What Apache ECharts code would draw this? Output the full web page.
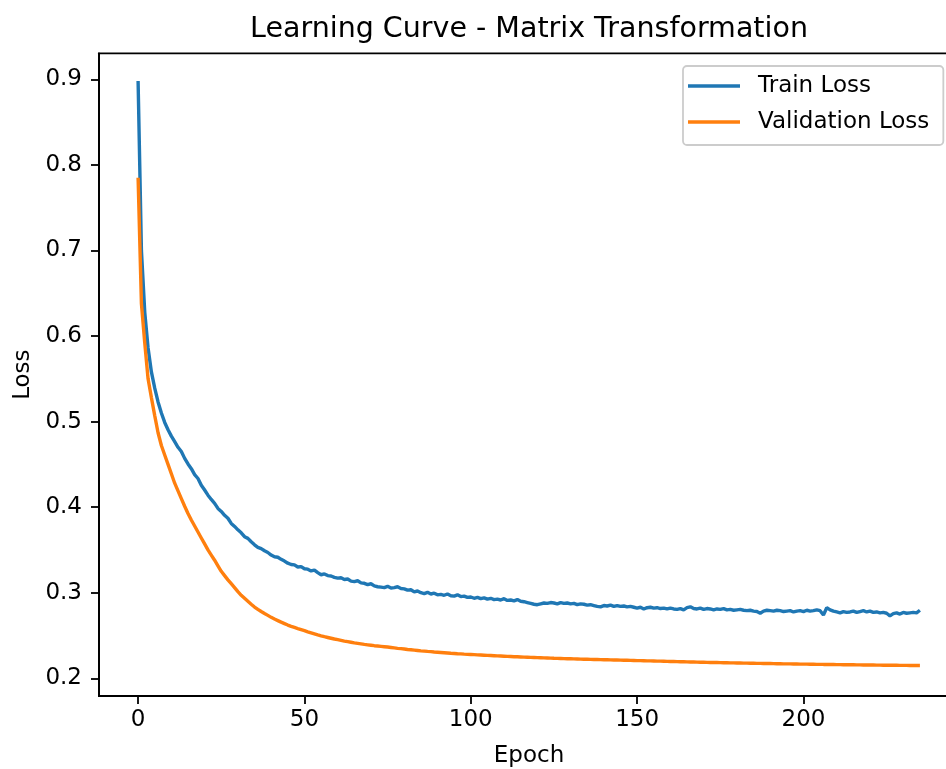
<!DOCTYPE html>
<html>
<head>
<meta charset="utf-8">
<script src="https://cdn.jsdelivr.net/npm/echarts@6/dist/echarts.min.js"></script>
<style>
  html, body { margin: 0; padding: 0; background: #fff; overflow: hidden; }
  #chart { width: 946px; height: 769px; }
</style>
</head>
<body>
<div id="chart"></div>
<script>
// Per-epoch losses recorded during training
const trainLoss = [
  0.8980, 0.7000, 0.6280, 0.5860, 0.5580, 0.5390, 0.5230, 0.5100, 0.4990, 0.4905,
  0.4830, 0.4765, 0.4700, 0.4650, 0.4570, 0.4505, 0.4450, 0.4380, 0.4335, 0.4255,
  0.4200, 0.4140, 0.4090, 0.4045, 0.3985, 0.3950, 0.3905, 0.3870, 0.3810, 0.3775,
  0.3735, 0.3700, 0.3655, 0.3635, 0.3595, 0.3560, 0.3530, 0.3515, 0.3490, 0.3470,
  0.3440, 0.3420, 0.3415, 0.3390, 0.3370, 0.3345, 0.3330, 0.3325, 0.3300, 0.3305,
  0.3280, 0.3275, 0.3255, 0.3265, 0.3235, 0.3210, 0.3220, 0.3200, 0.3195, 0.3180,
  0.3170, 0.3175, 0.3155, 0.3160, 0.3135, 0.3130, 0.3140, 0.3115, 0.3110, 0.3095,
  0.3105, 0.3080, 0.3070, 0.3065, 0.3060, 0.3075, 0.3055, 0.3060, 0.3070, 0.3050,
  0.3045, 0.3030, 0.3035, 0.3010, 0.3020, 0.3000, 0.2990, 0.3005, 0.2985, 0.2995,
  0.2975, 0.2980, 0.2970, 0.2985, 0.2965, 0.2960, 0.2975, 0.2955, 0.2960, 0.2945,
  0.2950, 0.2935, 0.2945, 0.2930, 0.2940, 0.2925, 0.2935, 0.2920, 0.2925, 0.2915,
  0.2930, 0.2910, 0.2915, 0.2905, 0.2920, 0.2900, 0.2895, 0.2885, 0.2875, 0.2865,
  0.2860, 0.2870, 0.2880, 0.2875, 0.2885, 0.2880, 0.2870, 0.2885, 0.2875, 0.2880,
  0.2870, 0.2875, 0.2860, 0.2870, 0.2865, 0.2855, 0.2860, 0.2850, 0.2840, 0.2835,
  0.2850, 0.2845, 0.2855, 0.2840, 0.2850, 0.2840, 0.2845, 0.2835, 0.2840, 0.2830,
  0.2820, 0.2830, 0.2810, 0.2825, 0.2830, 0.2820, 0.2825, 0.2815, 0.2820, 0.2810,
  0.2820, 0.2810, 0.2805, 0.2815, 0.2800, 0.2825, 0.2835, 0.2815, 0.2810, 0.2820,
  0.2805, 0.2815, 0.2810, 0.2800, 0.2810, 0.2805, 0.2815, 0.2800, 0.2805, 0.2795,
  0.2800, 0.2805, 0.2795, 0.2790, 0.2795, 0.2785, 0.2780, 0.2760, 0.2785, 0.2795,
  0.2790, 0.2785, 0.2795, 0.2790, 0.2780, 0.2785, 0.2790, 0.2775, 0.2785, 0.2790,
  0.2780, 0.2795, 0.2785, 0.2790, 0.2800, 0.2790, 0.2740, 0.2825, 0.2800, 0.2785,
  0.2775, 0.2765, 0.2780, 0.2770, 0.2775, 0.2785, 0.2770, 0.2780, 0.2790, 0.2775,
  0.2785, 0.2770, 0.2775, 0.2765, 0.2770, 0.2760, 0.2730, 0.2755, 0.2765, 0.2750,
  0.2770, 0.2760, 0.2765, 0.2770, 0.2765, 0.2795
];

const valLoss = [
  0.7850, 0.6380, 0.5920, 0.5500, 0.5280, 0.5070, 0.4870, 0.4720, 0.4610, 0.4500,
  0.4390, 0.4280, 0.4190, 0.4100, 0.4010, 0.3925, 0.3850, 0.3780, 0.3710, 0.3640,
  0.3570, 0.3500, 0.3440, 0.3380, 0.3315, 0.3250, 0.3200, 0.3150, 0.3105, 0.3060,
  0.3012, 0.2970, 0.2935, 0.2900, 0.2866, 0.2833, 0.2805, 0.2780, 0.2757, 0.2735,
  0.2712, 0.2692, 0.2674, 0.2656, 0.2639, 0.2622, 0.2607, 0.2594, 0.2581, 0.2569,
  0.2557, 0.2543, 0.2531, 0.2519, 0.2507, 0.2496, 0.2486, 0.2477, 0.2468, 0.2459,
  0.2451, 0.2443, 0.2435, 0.2428, 0.2421, 0.2414, 0.2408, 0.2402, 0.2396, 0.2391,
  0.2386, 0.2381, 0.2377, 0.2373, 0.2369, 0.2365, 0.2360, 0.2355, 0.2350, 0.2346,
  0.2342, 0.2337, 0.2333, 0.2329, 0.2325, 0.2321, 0.2318, 0.2314, 0.2311, 0.2307,
  0.2304, 0.2301, 0.2298, 0.2295, 0.2292, 0.2290, 0.2287, 0.2285, 0.2282, 0.2280,
  0.2278, 0.2276, 0.2274, 0.2272, 0.2270, 0.2268, 0.2266, 0.2264, 0.2262, 0.2260,
  0.2258, 0.2256, 0.2254, 0.2252, 0.2251, 0.2249, 0.2247, 0.2246, 0.2244, 0.2243,
  0.2241, 0.2240, 0.2238, 0.2237, 0.2236, 0.2234, 0.2233, 0.2232, 0.2230, 0.2229,
  0.2228, 0.2227, 0.2226, 0.2224, 0.2223, 0.2222, 0.2221, 0.2220, 0.2219, 0.2218,
  0.2217, 0.2216, 0.2215, 0.2214, 0.2213, 0.2212, 0.2211, 0.2210, 0.2209, 0.2208,
  0.2207, 0.2206, 0.2205, 0.2204, 0.2203, 0.2202, 0.2201, 0.2200, 0.2199, 0.2198,
  0.2197, 0.2196, 0.2195, 0.2194, 0.2193, 0.2192, 0.2191, 0.2190, 0.2189, 0.2188,
  0.2187, 0.2186, 0.2185, 0.2184, 0.2184, 0.2183, 0.2182, 0.2181, 0.2180, 0.2180,
  0.2179, 0.2178, 0.2177, 0.2177, 0.2176, 0.2175, 0.2174, 0.2174, 0.2173, 0.2172,
  0.2172, 0.2171, 0.2170, 0.2170, 0.2169, 0.2168, 0.2168, 0.2167, 0.2167, 0.2166,
  0.2165, 0.2165, 0.2164, 0.2164, 0.2163, 0.2163, 0.2162, 0.2162, 0.2161, 0.2161,
  0.2160, 0.2160, 0.2159, 0.2159, 0.2158, 0.2158, 0.2157, 0.2157, 0.2156, 0.2156,
  0.2155, 0.2155, 0.2154, 0.2154, 0.2153, 0.2153, 0.2153, 0.2152, 0.2152, 0.2151,
  0.2151, 0.2151, 0.2150, 0.2150, 0.2149, 0.2149
];

const xTicks = [0, 50, 100, 150, 200];
const yTicks = [0.2, 0.3, 0.4, 0.5, 0.6, 0.7, 0.8, 0.9];

const titleText = 'Learning Curve - Matrix Transformation';
const xName = 'Epoch';
const yName = 'Loss';
const seriesNames = ['Train Loss', 'Validation Loss'];

const FONT = 'DejaVu Sans';
const INK = '#000';

const toPairs = arr => arr.map((v, i) => [i, v]);

const chart = echarts.init(document.getElementById('chart'), null, { renderer: 'canvas' });

const axisLine = { show: true, onZero: false, lineStyle: { color: INK, width: 1.8 } };
const axisTick = { show: true, inside: false, length: 8, lineStyle: { color: INK, width: 1.8 } };
const nameStyle = { fontFamily: FONT, fontSize: 23, color: INK };

chart.setOption({
  animation: false,
  backgroundColor: '#fff',
  graphic: [{
    type: 'text',
    x: 529,
    y: 30,
    style: {
      text: titleText,
      font: '28.5px "DejaVu Sans"',
      fill: INK,
      align: 'center',
      verticalAlign: 'middle'
    }
  }],
  // the plot box runs past the right edge of the canvas, so its right border is not seen
  grid: {
    left: 99, top: 53.3, width: 860, bottom: 73,
    outerBoundsMode: 'none',
    containLabel: false,
    show: true, borderColor: INK, borderWidth: 1.8, backgroundColor: 'transparent'
  },
  legend: {
    orient: 'vertical',
    left: 683, top: 66,
    padding: [7, 14, 10, 5],
    itemWidth: 52, itemHeight: 3.5, itemGap: 10,
    icon: 'rect',
    selectedMode: false,
    backgroundColor: 'rgba(255,255,255,0.8)',
    borderColor: '#cccccc', borderWidth: 1.8, borderRadius: 4,
    textStyle: { fontFamily: FONT, fontSize: 23, color: INK, lineHeight: 26, padding: [0, 0, 0, 13] },
    data: seriesNames
  },
  xAxis: {
    type: 'value',
    min: -11.75, max: 246.75,
    name: xName, nameLocation: 'middle', nameGap: 49, nameTextStyle: nameStyle,
    axisLine: axisLine,
    axisTick: Object.assign({}, axisTick, { customValues: xTicks }),
    axisLabel: { customValues: xTicks, fontFamily: FONT, fontSize: 23, color: INK, margin: 13 },
    splitLine: { show: false }
  },
  yAxis: {
    type: 'value',
    min: 0.1793, max: 0.9304,
    name: yName, nameLocation: 'middle', nameGap: 64, nameRotate: 90, nameTextStyle: nameStyle,
    axisLine: axisLine,
    axisTick: Object.assign({}, axisTick, { customValues: yTicks }),
    axisLabel: {
      customValues: yTicks, fontFamily: FONT, fontSize: 23, color: INK, margin: 17,
      formatter: v => v.toFixed(1)
    },
    splitLine: { show: false }
  },
  series: [
    {
      name: seriesNames[0], type: 'line', data: toPairs(trainLoss),
      symbol: 'none', lineStyle: { color: '#1f77b4', width: 3.4 }, itemStyle: { color: '#1f77b4' },
      emphasis: { disabled: true }
    },
    {
      name: seriesNames[1], type: 'line', data: toPairs(valLoss),
      symbol: 'none', lineStyle: { color: '#ff7f0e', width: 3.4 }, itemStyle: { color: '#ff7f0e' },
      emphasis: { disabled: true }
    }
  ]
});
</script>
</body>
</html>
